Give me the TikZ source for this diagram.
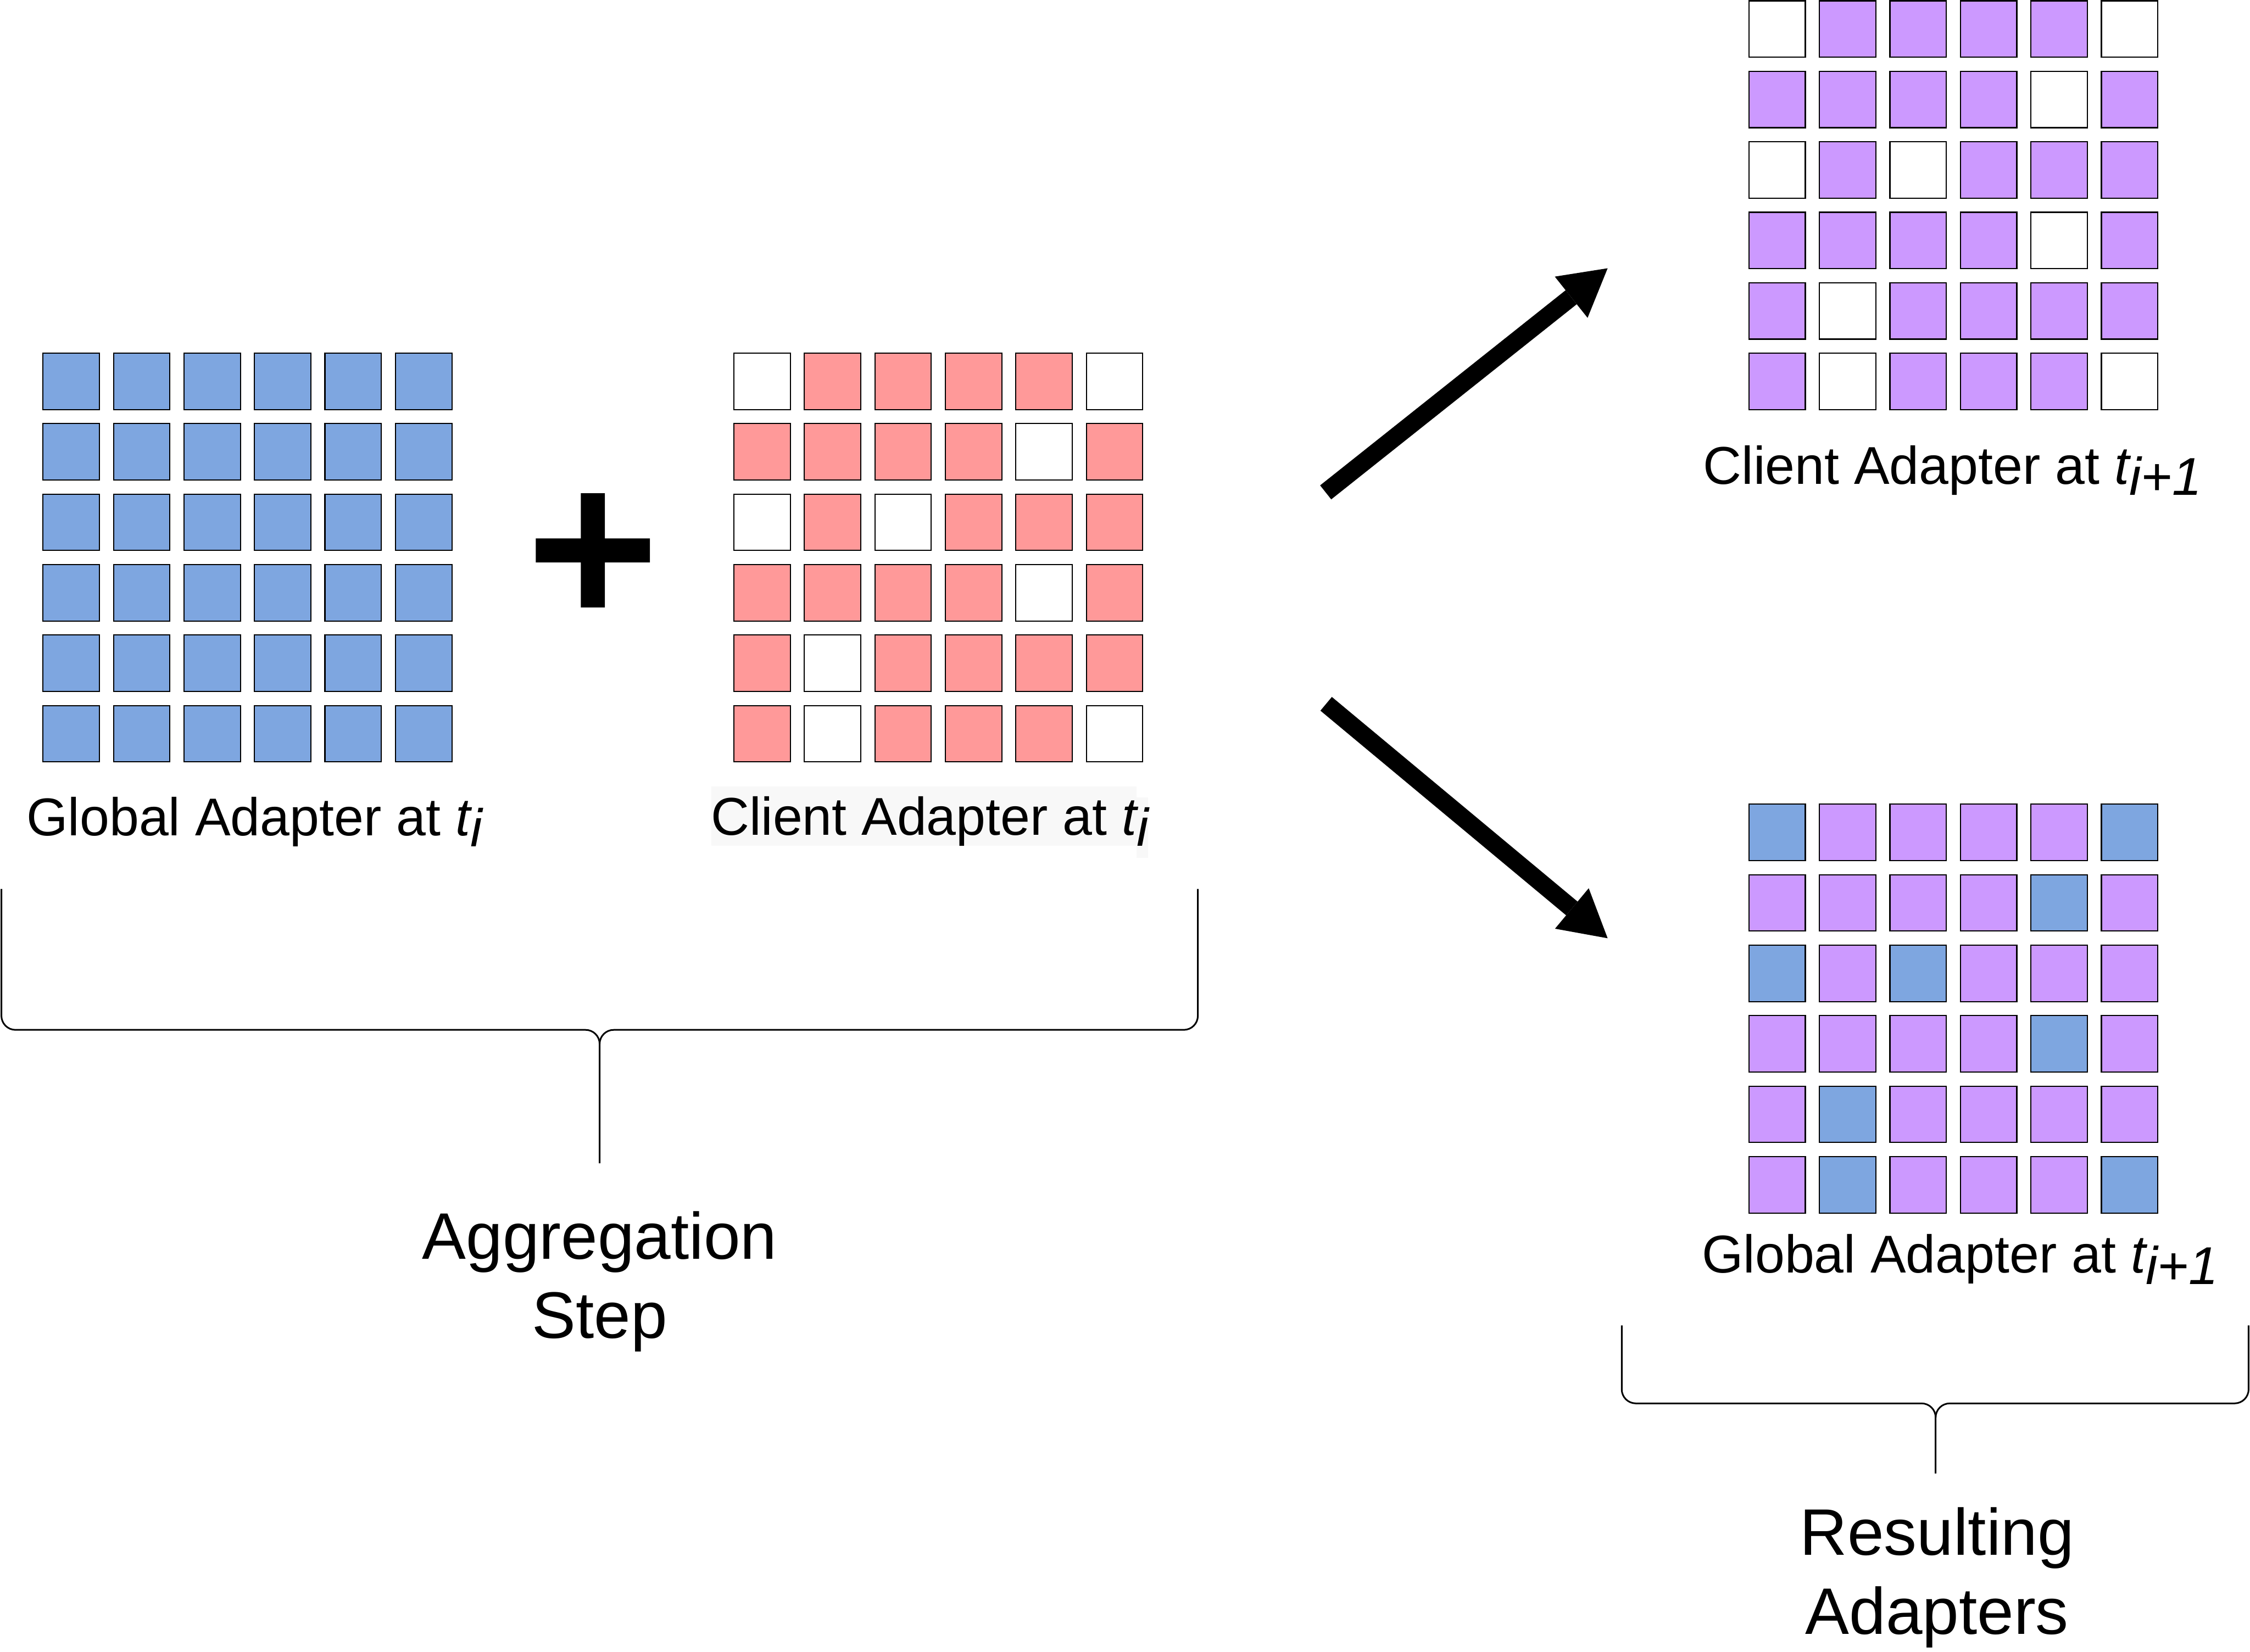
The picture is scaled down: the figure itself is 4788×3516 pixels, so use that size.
\documentclass[tikz,border=0pt]{standalone}
\usepackage{fontspec}
\setmainfont{Liberation Sans}
\usetikzlibrary{arrows.meta}
\definecolor{blueF}{HTML}{7EA6E0}
\definecolor{pinkF}{HTML}{FF9999}
\definecolor{purpF}{HTML}{CC99FF}
\definecolor{lblbg}{HTML}{F8F8F8}
\newcommand{\subi}[1]{\textit{t\raisebox{-0.24cm}{#1}}}
\begin{document}
\begin{tikzpicture}[x=0.01cm,y=-0.01cm,
  cell/.style={draw=black, line width=0.025cm, minimum size=1.2cm, inner sep=0pt, outer sep=0pt},
  gA/.style={fill=blueF},
  cA0/.style={fill=white}, cA1/.style={fill=pinkF},
  cB0/.style={fill=white}, cB1/.style={fill=purpF},
  cC0/.style={fill=blueF}, cC1/.style={fill=purpF},
  lbl/.style={font=\fontsize{32.2pt}{38pt}\selectfont, inner sep=0pt, anchor=base west},
  big/.style={font=\fontsize{39.8pt}{47.8pt}\selectfont, inner sep=0pt, align=center, anchor=north},
  bracepath/.style={draw=black, line width=0.035cm},
  bigarrow/.style={line width=0.38cm, -{Triangle[length=0.99cm,width=1.12cm,line width=0pt]}}
]
\useasboundingbox (0,0) rectangle (4788,3516);

% Global adapter at t_i (all blue)
\foreach \r in {1,...,6}{
  \foreach \c in {1,...,6}{
    \node[cell, gA] (ga-\r-\c) at ({151.5+150*(\c-1)},{811.7+150*(\r-1)}) {};
  }
}

% Pattern grids
\foreach \r/\row in {1/{0,1,1,1,1,0},2/{1,1,1,1,0,1},3/{0,1,0,1,1,1},4/{1,1,1,1,0,1},5/{1,0,1,1,1,1},6/{1,0,1,1,1,0}}{
  \foreach \v [count=\c] in \row {
    \node[cell, cA\v] (ca-\r-\c) at ({1621.7+150*(\c-1)},{811.7+150*(\r-1)}) {};
    \node[cell, cB\v] (cb-\r-\c) at ({3781.7+150*(\c-1)},{61.8+150*(\r-1)}) {};
    \node[cell, cC\v] (cc-\r-\c) at ({3781.7+150*(\c-1)},{1771.7+150*(\r-1)}) {};
  }
}

% plus sign
\fill[black] (1236,1050) -- (1287,1050) -- (1287,1146) -- (1383,1146) -- (1383,1197) -- (1287,1197) -- (1287,1293) -- (1236,1293) -- (1236,1197) -- (1140,1197) -- (1140,1146) -- (1236,1146) -- cycle;

% labels
\node[lbl] (lga) at (56,1778) {Global Adapter at \subi{i}};
\fill[lblbg] (1514,1674) rectangle (2419,1800);
\fill[lblbg] (2419,1697) rectangle (2443,1826);
\node[lbl] (lca) at (1512,1777) {Client Adapter at \subi{i}};
\node[lbl] (lcb) at (3624,1030) {Client Adapter at \subi{i+1}};
\node[lbl] (lcc) at (3621,2709) {Global Adapter at \subi{i+1}};

% arrows
\coordinate (up0) at (2821,1048);
\coordinate (up1) at (3421,571);
\coordinate (dn0) at (2822,1498);
\coordinate (dn1) at (3421,1997);
\draw[bigarrow] (up0) -- (up1);
\draw[bigarrow] (dn0) -- (dn1);

% left brace
\draw[bracepath] (3,1892) -- (3,2162) .. controls (3,2178.6) and (16.4,2192) .. (33,2192) -- (1246,2192) .. controls (1262.6,2192) and (1276,2205.4) .. (1276,2222) -- (1276,2476);
\draw[bracepath] (2549,1892) -- (2549,2162) .. controls (2549,2178.6) and (2535.6,2192) .. (2519,2192) -- (1306,2192) .. controls (1289.4,2192) and (1276,2205.4) .. (1276,2222);

% right brace
\draw[bracepath] (3451,2821) -- (3451,2957) .. controls (3451,2973.6) and (3464.4,2987) .. (3481,2987) -- (4089,2987) .. controls (4105.6,2987) and (4119,3000.4) .. (4119,3017) -- (4119,3136);
\draw[bracepath] (4785,2821) -- (4785,2957) .. controls (4785,2973.6) and (4771.6,2987) .. (4755,2987) -- (4149,2987) .. controls (4132.4,2987) and (4119,3000.4) .. (4119,3017);

% big labels
\node[big] (agg) at (1276,2578) {Aggregation\\Step};
\node[big] (res) at (4122,3208) {Resulting\\Adapters};
\end{tikzpicture}
\end{document}
